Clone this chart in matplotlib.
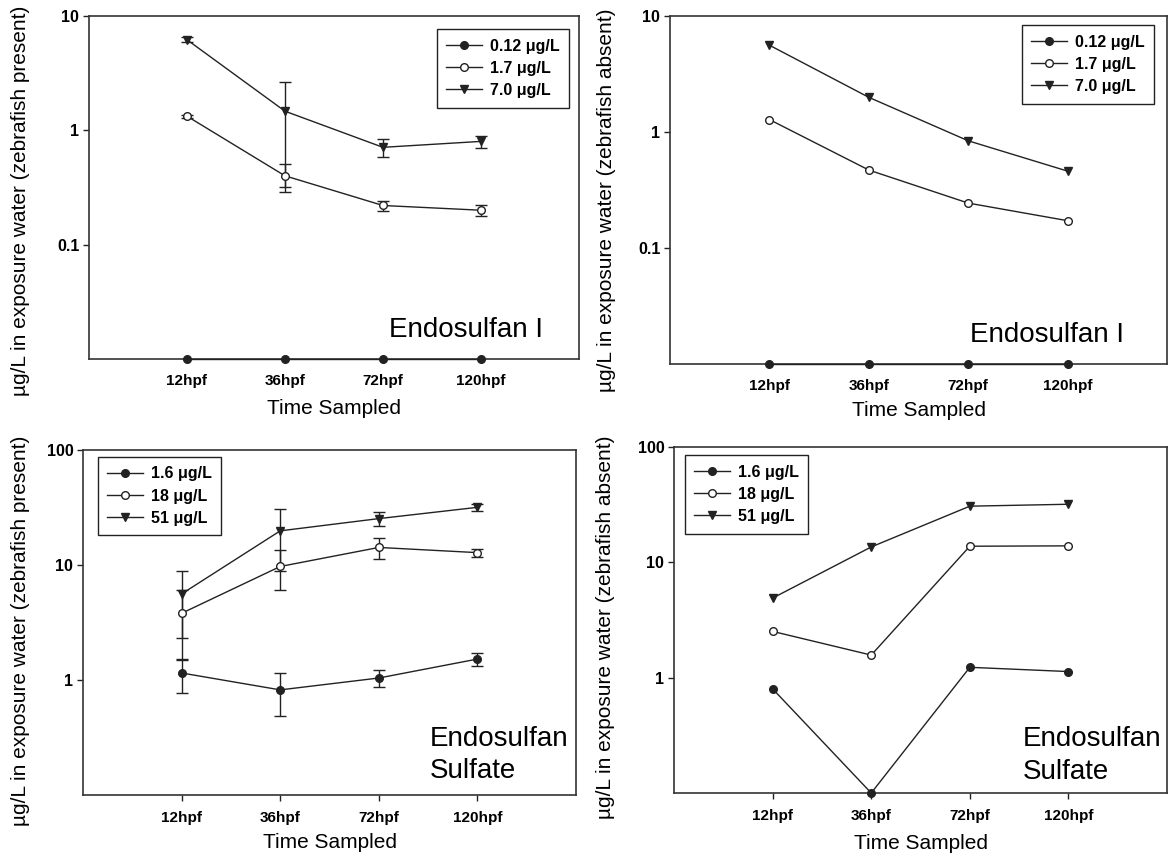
import numpy as np
import matplotlib
matplotlib.use('Agg')
import matplotlib.pyplot as plt
from matplotlib.ticker import NullLocator

plt.rcParams['font.family'] = ['Liberation Sans', 'DejaVu Sans']

times = ['12hpf', '36hpf', '72hpf', '120hpf']
x = np.arange(1, 5)

# Endosulfan I (lowest dose was below detection -> sits on the axis floor)
endo1_labels = ['0.12 μg/L', '1.7 μg/L', '7.0 μg/L']
endo1_present_low = [0.01, 0.01, 0.01, 0.01]
endo1_present_mid = [1.33, 0.40, 0.22, 0.20]
endo1_present_mid_err = [0.04, 0.11, 0.023, 0.022]
endo1_present_high = [6.2, 1.47, 0.71, 0.80]
endo1_present_high_err = [0.3, 1.15, 0.13, 0.10]

endo1_absent_low = [0.01, 0.01, 0.01, 0.01]
endo1_absent_mid = [1.28, 0.47, 0.244, 0.172]
endo1_absent_high = [5.6, 1.99, 0.84, 0.46]

# Endosulfan sulfate
sulf_labels = ['1.6 μg/L', '18 μg/L', '51 μg/L']
sulf_present_low = [1.15, 0.82, 1.04, 1.52]
sulf_present_low_err = [0.38, 0.33, 0.17, 0.21]
sulf_present_mid = [3.8, 9.7, 14.2, 12.8]
sulf_present_mid_err = [2.3, 3.7, 3.0, 1.05]
sulf_present_high = [5.6, 19.8, 25.3, 31.7]
sulf_present_high_err = [3.3, 11.0, 3.6, 2.0]

sulf_absent_low = [0.80, 0.1, 1.23, 1.13]
sulf_absent_mid = [2.52, 1.57, 13.8, 13.9]
sulf_absent_high = [4.9, 13.6, 30.7, 31.9]

ink = '#222222'
styles = [dict(marker='o', mfc=ink), dict(marker='o', mfc='white'), dict(marker='v', mfc=ink)]


def draw_panel(ax, series, errs, labels, ylim, yticks, ylabel, leg_anchor,
               words, word_pos, word_ha, ylab_pos, xlab_y, top_row):
    for y, e, lab, st in zip(series, errs, labels, styles):
        ax.plot(x, y, color=ink, lw=1, ms=5.5, mec=ink, mew=1, label=lab,
                clip_on=False, zorder=3, **st)
        if e is not None:
            ax.errorbar(x, y, yerr=e, fmt='none', ecolor=ink, elinewidth=1,
                        capsize=4.5, capthick=1, zorder=2)
    ax.set_yscale('log')
    ax.set_ylim(ylim)
    ax.set_xlim(0, 5)
    ax.yaxis.set_minor_locator(NullLocator())
    ax.set_yticks(yticks, [f'{t:g}' for t in yticks], fontweight='bold', fontsize=11.5)
    ax.set_xticks(x, times, fontweight='bold', fontsize=11)
    ax.tick_params(axis='y', direction='out', length=4, width=1, pad=3, color=ink)
    if top_row:
        ax.tick_params(axis='x', length=0, pad=11)
    else:
        ax.tick_params(axis='x', direction='out', length=4, width=1, pad=7.5, color=ink)
    for sp in ax.spines.values():
        sp.set_linewidth(1.2)
        sp.set_color('#333333')

    ax.set_ylabel(ylabel, fontsize=15)
    ax.yaxis.set_label_coords(*ylab_pos)
    ax.set_xlabel('Time Sampled', fontsize=15)
    ax.xaxis.set_label_coords(0.5, xlab_y)

    leg = ax.legend(loc='upper left', bbox_to_anchor=leg_anchor,
                    prop=dict(weight='bold', size=11.5), fancybox=False,
                    edgecolor=ink, framealpha=1, borderaxespad=0,
                    handlelength=2.2, handletextpad=0.5, labelspacing=0.45,
                    borderpad=0.6)
    leg.get_frame().set_linewidth(1.0)

    for w, (px, py) in zip(words, word_pos):
        ax.text(px, py, w, transform=ax.transAxes, ha=word_ha, va='baseline', fontsize=20)


fig = plt.figure(figsize=(11.71, 8.6), dpi=100)
ax1 = fig.add_axes([0.0760, 0.5826, 0.4184, 0.3988])
ax2 = fig.add_axes([0.5722, 0.5767, 0.4244, 0.4047])
ax3 = fig.add_axes([0.0709, 0.0756, 0.4210, 0.4012])
ax4 = fig.add_axes([0.5756, 0.0779, 0.4210, 0.4023])

draw_panel(ax1, [endo1_present_low, endo1_present_mid, endo1_present_high],
           [None, endo1_present_mid_err, endo1_present_high_err], endo1_labels,
           (0.01, 10), [0.1, 1, 10], 'µg/L in exposure water (zebrafish present)',
           (0.710, 0.962), ['Endosulfan I'], [(0.927, 0.064)], 'right',
           (-0.120, 0.46), -0.117, True)

draw_panel(ax2, [endo1_absent_low, endo1_absent_mid, endo1_absent_high],
           [None, None, None], endo1_labels,
           (0.01, 10), [0.1, 1, 10], 'µg/L in exposure water (zebrafish absent)',
           (0.708, 0.974), ['Endosulfan I'], [(0.913, 0.063)], 'right',
           (-0.109, 0.471), -0.106, True)

draw_panel(ax3, [sulf_present_low, sulf_present_mid, sulf_present_high],
           [sulf_present_low_err, sulf_present_mid_err, sulf_present_high_err], sulf_labels,
           (0.1, 100), [1, 10, 100], 'µg/L in exposure water (zebrafish present)',
           (0.030, 0.980), ['Endosulfan', 'Sulfate'], [(0.704, 0.142), (0.704, 0.049)], 'left',
           (-0.108, 0.475), -0.11, False)

draw_panel(ax4, [sulf_absent_low, sulf_absent_mid, sulf_absent_high],
           [None, None, None], sulf_labels,
           (0.1, 100), [1, 10, 100], 'µg/L in exposure water (zebrafish absent)',
           (0.022, 0.977), ['Endosulfan', 'Sulfate'], [(0.708, 0.136), (0.708, 0.040)], 'left',
           (-0.120, 0.48), -0.118, False)

fig.savefig('out.png', dpi=100)
